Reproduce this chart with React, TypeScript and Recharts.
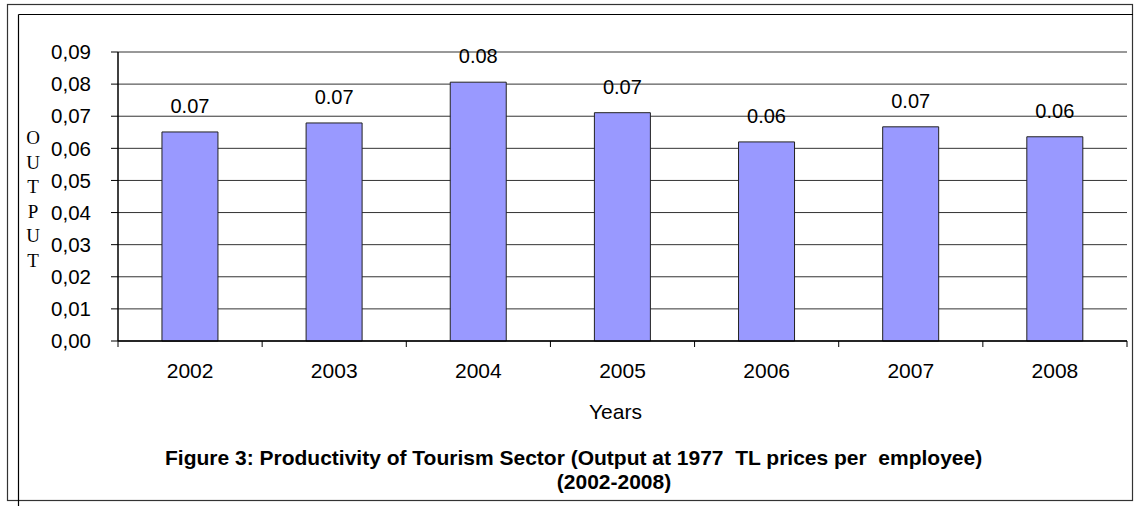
import React from 'react';
import { BarChart, Bar, XAxis, YAxis, CartesianGrid, LabelList } from 'recharts';

const years = ['2002', '2003', '2004', '2005', '2006', '2007', '2008'];
const output = [0.0651, 0.0679, 0.0806, 0.0711, 0.062, 0.0667, 0.0636];
const yTicks = [0, 0.01, 0.02, 0.03, 0.04, 0.05, 0.06, 0.07, 0.08, 0.09];
const yLetters = ['O', 'U', 'T', 'P', 'U', 'T'];
const titleLine1 = 'Figure 3: Productivity of Tourism Sector (Output at 1977  TL prices per  employee)';
const titleLine2 = '(2002-2008)';
const xTitle = 'Years';

const data = years.map((y, i) => ({ year: y, value: output[i] }));

const FONT = '"Liberation Sans", Arial, sans-serif';

const XTick = (props: any) => {
  const { x, y, payload, index, width } = props;
  const band = (width || 1009) / years.length;
  const axisY = y - 22;
  const left = x - band / 2;
  const right = x + band / 2;
  return (
    <g>
      <line x1={left} y1={axisY} x2={left} y2={axisY + 6} stroke="#000" strokeWidth={1} />
      {index === years.length - 1 && (
        <line x1={right} y1={axisY} x2={right} y2={axisY + 6} stroke="#000" strokeWidth={1} />
      )}
      <text x={x} y={y} dy="0.71em" textAnchor="middle" fontSize={21} fill="#000" fontFamily={FONT}>
        {payload.value}
      </text>
    </g>
  );
};

const YLabel = (props: any) => {
  const vb = props.viewBox || { x: 18, y: 52, width: 100, height: 289 };
  const cx = vb.x + 15;
  const startY = 144;
  return (
    <text fontFamily='"Liberation Serif", "Times New Roman", serif' fontSize={19} fill="#000" textAnchor="middle">
      {yLetters.map((l, i) => (
        <tspan key={i} x={cx} y={startY + i * 24.6}>
          {l}
        </tspan>
      ))}
    </text>
  );
};

const XLabel = (props: any) => {
  const vb = props.viewBox || { x: 118, y: 341, width: 1009, height: 30 };
  return (
    <text x={vb.x + vb.width / 2 - 7} y={vb.y + 78} textAnchor="middle" fontSize={21} fill="#000" fontFamily={FONT}>
      {xTitle}
    </text>
  );
};

export default function App() {
  return (
    <div style={{ position: 'absolute', left: 0, top: 0, width: 1134, height: 506, background: '#fff' }}>
      <svg width={1134} height={506} style={{ position: 'absolute', left: 0, top: 0 }}>
        <rect x={7.5} y={4.5} width={1125} height={496} fill="none" stroke="#333" strokeWidth={1.2} />
        <line x1={18.5} y1={14.5} x2={1133} y2={14.5} stroke="#000" strokeWidth={1.2} />
        <line x1={18.5} y1={14.5} x2={18.5} y2={506} stroke="#000" strokeWidth={1.2} />
        <text x={165} y={465} fontSize={21} fontWeight="bold" fill="#000" fontFamily={FONT} style={{ whiteSpace: 'pre' }}>
          {titleLine1}
        </text>
        <text x={614} y={489} fontSize={21} fontWeight="bold" fill="#000" fontFamily={FONT} textAnchor="middle">
          {titleLine2}
        </text>
      </svg>
      <div style={{ position: 'absolute', left: 0, top: 0 }}>
        <BarChart
          width={1134}
          height={506}
          data={data}
          margin={{ top: 52, right: 7, bottom: 135, left: 18 }}
          barCategoryGap="30.5%"
          style={{ fontFamily: FONT }}
        >
          <CartesianGrid vertical={false} stroke="#333" strokeWidth={1} yAxisId="left" />
          <XAxis
            dataKey="year"
            height={30}
            tickSize={0}
            tickMargin={22}
            tick={<XTick />}
            axisLine={{ stroke: '#000', strokeWidth: 1.5 }}
            tickLine={false}
            label={<XLabel />}
            interval={0}
          />
          <YAxis
            yAxisId="left"
            width={100}
            domain={[0, 0.09]}
            ticks={yTicks}
            interval={0}
            tickFormatter={(v: number) => v.toFixed(2).replace('.', ',')}
            tick={{ fontSize: 20.5, fill: '#000', fontFamily: FONT }}
            tickSize={7}
            tickMargin={20}
            tickLine={{ stroke: '#000' }}
            axisLine={{ stroke: '#000', strokeWidth: 1.5 }}
            label={<YLabel />}
          />
          <YAxis
            yAxisId="right"
            orientation="right"
            width={0}
            tick={false}
            tickLine={false}
            axisLine={{ stroke: '#999', strokeWidth: 1 }}
          />
          <Bar yAxisId="left" dataKey="value" fill="#9999FF" stroke="#222" strokeWidth={1} isAnimationActive={false}>
            <LabelList
              dataKey="value"
              position="top"
              offset={19}
              formatter={(v: any) => Number(v).toFixed(2)}
              style={{ fontSize: 20, fill: '#000', fontFamily: FONT }}
            />
          </Bar>
        </BarChart>
      </div>
    </div>
  );
}
